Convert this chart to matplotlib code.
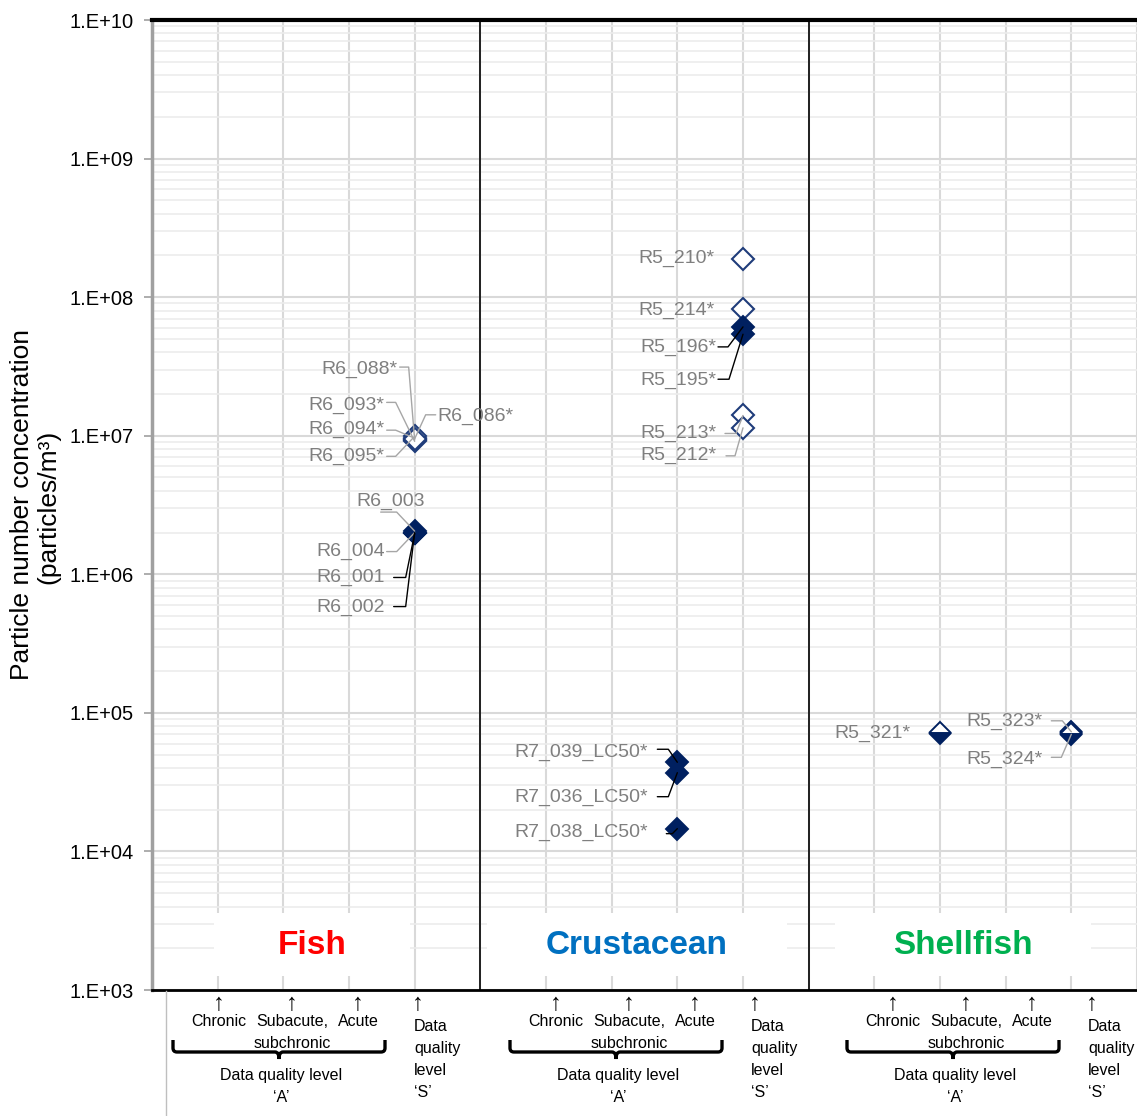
import math
import matplotlib
matplotlib.use('Agg')
import matplotlib.pyplot as plt
from matplotlib import font_manager as fm
from matplotlib.ticker import FixedLocator, LogLocator, NullFormatter, FixedFormatter
from matplotlib.patches import Rectangle, PathPatch
from matplotlib.path import Path
from matplotlib.lines import Line2D

plt.rcParams['font.family'] = ['Liberation Sans', 'DejaVu Sans']

# ---------------- data ----------------
panels = ['Fish', 'Crustacean', 'Shellfish']
endpoint_labels = ['Chronic', 'Subacute,\nsubchronic', 'Acute']
level_a_label = 'Data quality level\n‘A’'
level_s_label = 'Data\nquality\nlevel\n‘S’'
ylabel_line1 = 'Particle number concentration'
ylabel_line2 = '(particles/m³)'
ytick_values = [1e3, 1e4, 1e5, 1e6, 1e7, 1e8, 1e9, 1e10]
ytick_labels = ['1.E+03', '1.E+04', '1.E+05', '1.E+06', '1.E+07', '1.E+08', '1.E+09', '1.E+10']

sample_ids = ['R6_088*', 'R6_093*', 'R6_094*', 'R6_095*', 'R6_086*',
              'R6_003', 'R6_004', 'R6_001', 'R6_002',
              'R5_210*', 'R5_214*', 'R5_196*', 'R5_195*', 'R5_213*', 'R5_212*',
              'R7_039_LC50*', 'R7_036_LC50*', 'R7_038_LC50*',
              'R5_321*', 'R5_323*', 'R5_324*']
sample_panel = [0, 0, 0, 0, 0,
                0, 0, 0, 0,
                1, 1, 1, 1, 1, 1,
                1, 1, 1,
                2, 2, 2]
# 1 = Chronic, 2 = Subacute/subchronic, 3 = Acute, 4 = data quality level 'S'
sample_slot = [4, 4, 4, 4, 4,
               4, 4, 4, 4,
               4, 4, 4, 4, 4, 4,
               3, 3, 3,
               2, 4, 4]
sample_values = [9.3e6, 9.1e6, 9.6e6, 9.9e6, 9.5e6,
                 2.05e6, 2.0e6, 1.97e6, 2.0e6,
                 1.9e8, 8.2e7, 6.1e7, 5.4e7, 1.4e7, 1.14e7,
                 4.4e4, 3.7e4, 1.46e4,
                 7.2e4, 7.3e4, 7.0e4]
sample_fill = ['open'] * 5 + ['full'] * 4 + \
              ['open', 'open', 'full', 'full', 'open', 'open'] + \
              ['full'] * 3 + ['half'] * 3

# ---------------- layout / style ----------------
W, H, DPI = 1137, 1116, 100
names = {f.name for f in fm.fontManager.ttflist}
NARROW = 'Liberation Sans Narrow' in names

NAVY = '#002060'
OPEN_EDGE = '#1F3C7A'
GRAY_TXT = '#7f7f7f'
GRAY_LINE = '#a6a6a6'
panel_colors = ['#FF0000', '#0070C0', '#00B050']

def fx(px):
    return px / W

def fy(py):
    return 1 - py / H

# label offsets in pixels relative to point (y up): text dx, dy, ha, leader(start dx, start dy, elbow dx, color)
label_layout = {
    'R6_088*': (-17, 71, 'right', (-15, 73, -6, GRAY_LINE)),
    'R6_093*': (-30, 36, 'right', (-28, 39, -19, GRAY_LINE)),
    'R6_094*': (-30, 9, 'right', (-28, 8, -19, GRAY_LINE)),
    'R6_095*': (-30, -20, 'right', (-28, -20, -19, GRAY_LINE)),
    'R6_086*': (23, 22, 'left', (21, 24, 11, GRAY_LINE)),
    'R6_003': (-24, 30, 'center', (-34, 19, -18, GRAY_LINE)),
    'R6_004': (-30, -19, 'right', (-28, -19, -18, GRAY_LINE)),
    'R6_001': (-30, -44, 'right', (-21, -44, -9, 'black')),
    'R6_002': (-30, -75, 'right', (-21, -74, -9, 'black')),
    'R5_210*': (-28, 0, 'right', None),
    'R5_214*': (-28, -1, 'right', None),
    'R5_196*': (-27, -21, 'right', (-25, -20, -15, 'black')),
    'R5_195*': (-27, -46, 'right', (-25, -45, -14, 'black')),
    'R5_213*': (-27, -18, 'right', (-18, -18, -7, GRAY_LINE)),
    'R5_212*': (-27, -28, 'right', (-17, -28, -8, GRAY_LINE)),
    'R7_039_LC50*': (-29, 10, 'right', (-20, 13, -9, 'black')),
    'R7_036_LC50*': (-29, -25, 'right', (-20, -24, -9, 'black')),
    'R7_038_LC50*': (-29, -4, 'right', (-11, -5, -5, 'black')),
    'R5_321*': (-29, -1, 'right', None),
    'R5_323*': (-29, 10, 'right', (-20, 11, -9, GRAY_LINE)),
    'R5_324*': (-29, -25, 'right', (-20, -23, -10, GRAY_LINE)),
}

fig = plt.figure(figsize=(W / DPI, H / DPI), dpi=DPI)
fig.patch.set_facecolor('white')
ax = fig.add_axes([fx(152), fy(990), (W - 152) / W, (990 - 20) / H])

ax.set_yscale('log')
ax.set_ylim(1e3, 1e10)
ax.set_xlim(0, 15)
ax.set_axisbelow(True)

# grid
ax.xaxis.set_major_locator(FixedLocator(list(range(0, 16))))
ax.xaxis.set_major_formatter(NullFormatter())
ax.tick_params(axis='x', length=0)
ax.yaxis.set_major_locator(FixedLocator(ytick_values))
ax.yaxis.set_major_formatter(FixedFormatter(ytick_labels))
ax.yaxis.set_minor_locator(LogLocator(base=10, subs=[2, 3, 4, 5, 6, 7, 8, 9]))
ax.yaxis.set_minor_formatter(NullFormatter())
ax.tick_params(axis='y', which='major', direction='out', length=6, width=1.2,
               color='#a0a0a0', labelsize=14.5, pad=7)
ax.tick_params(axis='y', which='minor', length=0)
ax.grid(True, axis='x', color='#d9d9d9', lw=1.5)
ax.grid(True, axis='y', which='major', color='#d9d9d9', lw=1.5)
ax.grid(True, axis='y', which='minor', color='#ececec', lw=1.2)

for s in (5, 10):
    ax.axvline(s, color='black', lw=1.2, zorder=2)

ax.spines['top'].set_color('black')
ax.spines['top'].set_linewidth(3)
ax.spines['bottom'].set_color('black')
ax.spines['bottom'].set_linewidth(2)
ax.spines['left'].set_color('#a0a0a0')
ax.spines['left'].set_linewidth(2.5)
ax.spines['right'].set_visible(False)

# panel name boxes and labels
panel_centers = [312, 637, 963]
panel_box_half = [98, 150, 128]
pl_family = 'Liberation Sans Narrow' if NARROW else 'Liberation Sans'
pl_size = 27 if NARROW else 24
for name, col, cx, hw in zip(panels, panel_colors, panel_centers, panel_box_half):
    ax.add_patch(Rectangle((fx(cx - hw), fy(976)), 2 * hw / W, 63 / H,
                           transform=fig.transFigure, facecolor='white',
                           edgecolor='none', zorder=1.5, clip_on=False))
    ax.text(fx(cx), fy(945), name, transform=fig.transFigure, ha='center',
            va='center', color=col, fontsize=pl_size, fontweight='bold',
            family=pl_family, zorder=3)

# markers
for sid, p, slot, v, fill in zip(sample_ids, sample_panel, sample_slot,
                                  sample_values, sample_fill):
    x = p * 5 + slot
    if fill == 'open':
        ax.plot([x], [v], marker='D', ms=11, mfc='white', mec=OPEN_EDGE,
                mew=1.5, ls='none', zorder=4)
    elif fill == 'full':
        ax.plot([x], [v], marker='D', ms=11, mfc=NAVY, mec=NAVY,
                mew=1.4, ls='none', zorder=5)
    else:
        ax.plot([x], [v], marker='D', ms=11, fillstyle='bottom', mfc=NAVY,
                markerfacecoloralt='white', mec=NAVY, mew=1.4, ls='none', zorder=5)

# labels with leader lines
for sid, p, slot, v in zip(sample_ids, sample_panel, sample_slot, sample_values):
    x = p * 5 + slot
    tx, ty, ha, leader = label_layout[sid]
    ax.annotate(sid, xy=(x, v), xycoords='data', xytext=(tx, ty),
                textcoords='offset pixels', ha=ha, va='center',
                color=GRAY_TXT, fontsize=14, zorder=6)
    if leader is not None:
        sx, sy, ex, c = leader
        angb = math.degrees(math.atan2(sy, ex))
        ax.annotate('', xy=(x, v), xycoords='data', xytext=(sx, sy),
                    textcoords='offset pixels',
                    arrowprops=dict(arrowstyle='-', color=c, lw=1.0,
                                    shrinkA=0, shrinkB=0,
                                    connectionstyle=f'angle,angleA=0,angleB={angb},rad=0'),
                    zorder=6)

# y axis label (two lines)
yl_family = 'Liberation Sans Narrow' if NARROW else 'Liberation Sans'
yl_size = 23 if NARROW else 19
fig.text(fx(22), fy(505), ylabel_line1, rotation=90, ha='center', va='center',
         fontsize=yl_size, family=yl_family)
fig.text(fx(48), fy(507), ylabel_line2, rotation=90, ha='center', va='center',
         fontsize=yl_size, family=yl_family)

# bottom annotation region
fig.add_artist(Line2D([fx(166), fx(166)], [fy(991), fy(1116)], color='#bfbfbf', lw=1))
BT = 11.5
for k in range(3):
    o = k * 337
    for ax_px in (219, 292, 358, 418):
        fig.text(fx(ax_px + o), fy(1004), '↑', ha='center', va='center', fontsize=17)
    fig.text(fx(219 + o), fy(1022), endpoint_labels[0], ha='center', va='center', fontsize=BT)
    fig.text(fx(292 + o), fy(1032.5), endpoint_labels[1], ha='center', va='center',
             fontsize=BT, linespacing=1.55, multialignment='center')
    fig.text(fx(358 + o), fy(1022), endpoint_labels[2], ha='center', va='center', fontsize=BT)
    fig.text(fx(281 + o), fy(1086.5), level_a_label, ha='center', va='center',
             fontsize=BT, linespacing=1.55, multialignment='center')
    fig.text(fx(414 + o), fy(1059.5), level_s_label, ha='left', va='center',
             fontsize=BT, linespacing=1.6)
    # curly brace
    L, R, C, top, mid, tip = 173 + o, 385 + o, 279 + o, 1040, 1052, 1059
    verts = [(L, top), (L, mid - 4), (L, mid), (L + 4, mid), (C - 4, mid), (C, mid),
             (C, tip), (C, mid), (C + 4, mid), (R - 4, mid), (R, mid), (R, mid - 4), (R, top)]
    codes = [Path.MOVETO, Path.LINETO, Path.CURVE3, Path.CURVE3, Path.LINETO,
             Path.CURVE3, Path.CURVE3, Path.CURVE3, Path.CURVE3, Path.LINETO,
             Path.CURVE3, Path.CURVE3, Path.LINETO]
    verts_f = [(fx(a), fy(b)) for a, b in verts]
    fig.add_artist(PathPatch(Path(verts_f, codes), transform=fig.transFigure,
                             facecolor='none', edgecolor='black', lw=2.4))

fig.savefig('out.png', dpi=DPI, facecolor='white')
